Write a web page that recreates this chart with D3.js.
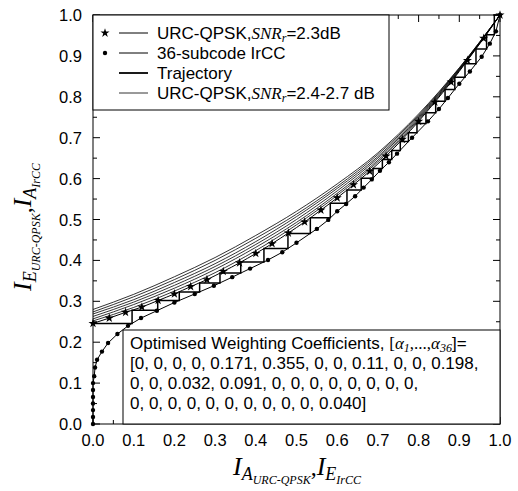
<!DOCTYPE html>
<html><head><meta charset="utf-8">
<script src="https://cdn.jsdelivr.net/npm/d3@7"></script>
<style>body{margin:0;background:#fff}svg{display:block}</style>
</head><body><div id="chart"></div>
<script>
// ---- data ----
const tickLabels = ["0.0","0.1","0.2","0.3","0.4","0.5","0.6","0.7","0.8","0.9","1.0"];
const urcX = [0,0.04,0.08,0.12,0.16,0.2,0.24,0.28,0.32,0.36,0.4,0.44,0.48,0.52,0.56,0.6,0.64,0.68,0.72,0.76,0.8,0.84,0.88,0.92,0.96,1.0];
const urcY = [0.246,0.259,0.273,0.286,0.302,0.318,0.336,0.353,0.373,0.394,0.417,0.441,0.467,0.494,0.523,0.553,0.585,0.618,0.655,0.696,0.740,0.787,0.836,0.889,0.943,1.0];
const irccX = [0,0,0,0,0,0,0,0.003,0.005,0.01,0.022,0.037,0.06,0.086,0.118,0.157,0.2,0.25,0.297,0.342,0.386,0.43,0.465,0.5,0.55,0.578,0.6,0.622,0.644,0.665,0.685,0.705,0.727,0.747,0.784,0.823,0.85,0.872,0.9,0.926,0.955,0.975,0.99,1.0];
const irccY = [0,0.017,0.034,0.05,0.066,0.083,0.1,0.117,0.138,0.157,0.177,0.198,0.22,0.24,0.259,0.277,0.297,0.318,0.338,0.359,0.38,0.401,0.42,0.443,0.477,0.499,0.52,0.538,0.557,0.578,0.598,0.619,0.64,0.661,0.70,0.74,0.77,0.797,0.832,0.862,0.898,0.93,0.96,1.0];
// URC-QPSK curves for higher SNR (2.4 - 2.7 dB)
const snrX = [0,0.1,0.2,0.3,0.4,0.5,0.6,0.7,0.8,0.9,1.0];
const snrCurves = [
  [0.252,0.285,0.325,0.370,0.424,0.487,0.559,0.641,0.743,0.864,1],
  [0.257,0.292,0.332,0.378,0.432,0.493,0.564,0.645,0.746,0.865,1],
  [0.263,0.298,0.339,0.385,0.439,0.500,0.570,0.650,0.749,0.867,1],
  [0.269,0.304,0.346,0.392,0.446,0.507,0.576,0.654,0.752,0.868,1],
  [0.274,0.311,0.353,0.400,0.454,0.513,0.581,0.659,0.755,0.870,1],
  [0.280,0.317,0.360,0.407,0.461,0.520,0.587,0.663,0.758,0.871,1]
];
// trajectory staircase: vertical at trajX[k] from trajY[k] to trajY[k+1], then horizontal to trajX[k+1]
const trajX = [0,0.096,0.159,0.212,0.262,0.312,0.363,0.42,0.479,0.534,0.583,0.624,0.659,0.688,0.711,0.734,0.755,0.775,0.796,0.818,0.842,0.865,0.889,0.914,0.941,0.967,0.986,1.0];
const trajY = [0.246,0.246,0.278,0.302,0.323,0.345,0.369,0.396,0.429,0.466,0.504,0.540,0.572,0.601,0.625,0.647,0.669,0.691,0.712,0.735,0.761,0.789,0.818,0.848,0.881,0.917,0.952,1.0];
const coeffLines = [
  "[0, 0, 0, 0, 0.171, 0.355, 0, 0, 0.11, 0, 0, 0.198,",
  "0, 0, 0.032, 0.091, 0, 0, 0, 0, 0, 0, 0, 0,",
  "0, 0, 0, 0, 0, 0, 0, 0, 0, 0, 0.040]"
];

// ---- drawing ----
const W = 518, H = 491;
const svg = d3.select("#chart").append("svg").attr("width", W).attr("height", H);
const x = d3.scaleLinear().domain([0,1]).range([93,500]);
const y = d3.scaleLinear().domain([0,1]).range([424,15]);
const sans = "Liberation Sans, Arial, sans-serif";
const serif = "Liberation Serif, Times New Roman, serif";
const FS = 17;

// ticks (inward, all four sides)
const major = d3.range(0, 11).map(i => i/10);
const minor = d3.range(0, 10).map(i => i/10 + 0.05);
const tg = svg.append("g").attr("stroke", "#000").attr("stroke-width", 1);
[[major,7],[minor,4]].forEach(([vals,len]) => {
  vals.forEach(v => {
    tg.append("line").attr("x1", x(v)).attr("x2", x(v)).attr("y1", 424).attr("y2", 424-len);
    tg.append("line").attr("x1", x(v)).attr("x2", x(v)).attr("y1", 15).attr("y2", 15+len);
    tg.append("line").attr("y1", y(v)).attr("y2", y(v)).attr("x1", 93).attr("x2", 93+len);
    tg.append("line").attr("y1", y(v)).attr("y2", y(v)).attr("x1", 500).attr("x2", 500-len);
  });
});

// tick labels
svg.append("g").selectAll("text").data(major).join("text")
  .attr("x", d => x(d)).attr("y", 446).attr("text-anchor", "middle")
  .attr("font-family", sans).attr("font-size", 16.5).text((d,i) => tickLabels[i]);
svg.append("g").selectAll("text").data(major).join("text")
  .attr("x", 82).attr("y", d => y(d) + 6).attr("text-anchor", "end")
  .attr("font-family", sans).attr("font-size", 16.5).text((d,i) => tickLabels[i]);

// curves
const lineGen = d3.line().x(d => x(d[0])).y(d => y(d[1]));
const smooth = d3.line().x(d => x(d[0])).y(d => y(d[1])).curve(d3.curveMonotoneX);
snrCurves.forEach(c => {
  svg.append("path").attr("d", smooth(snrX.map((v,i) => [v, c[i]])))
    .attr("fill", "none").attr("stroke", "#000").attr("stroke-width", 0.8);
});
const urcPts = urcX.map((v,i) => [v, urcY[i]]);
svg.append("path").attr("d", smooth(urcPts)).attr("fill","none").attr("stroke","#000").attr("stroke-width",1);
const irccPts = irccX.map((v,i) => [v, irccY[i]]);
svg.append("path").attr("d", lineGen(irccPts)).attr("fill","none").attr("stroke","#000").attr("stroke-width",1);

// trajectory
const trajPts = [];
for (let k = 0; k < trajX.length; k++) {
  trajPts.push([trajX[k], trajY[k]]);
  if (k + 1 < trajY.length) trajPts.push([trajX[k], trajY[k+1]]);
}
svg.append("path").attr("d", lineGen(trajPts)).attr("fill","none").attr("stroke","#000").attr("stroke-width",1.5);

// markers
const star = d3.symbol().type(d3.symbolStar).size(26);
svg.append("g").selectAll("path").data(urcPts).join("path")
  .attr("d", star).attr("transform", d => `translate(${x(d[0])},${y(d[1])})`).attr("fill","#000");
svg.append("g").selectAll("circle").data(irccPts).join("circle")
  .attr("cx", d => x(d[0])).attr("cy", d => y(d[1])).attr("r", 2.2).attr("fill","#000");

// frame
svg.append("rect").attr("x",93).attr("y",15).attr("width",407).attr("height",409)
  .attr("fill","none").attr("stroke","#000").attr("stroke-width",1);

// legend
svg.append("rect").attr("x",93).attr("y",15).attr("width",296).attr("height",95)
  .attr("fill","#fff").attr("stroke","#000").attr("stroke-width",1);
const legRows = [33, 53, 73, 93];
const lg = svg.append("g");
lg.append("path").attr("d", star).attr("transform", `translate(105,${legRows[0]})`).attr("fill","#000");
lg.append("circle").attr("cx",105).attr("cy",legRows[1]).attr("r",2.2).attr("fill","#000");
const lw = [1, 1, 1.8, 0.8];
legRows.forEach((ry,i) => lg.append("line").attr("x1",119).attr("x2",148).attr("y1",ry).attr("y2",ry)
  .attr("stroke","#000").attr("stroke-width",lw[i]));
function snrText(g, yy, tail) {
  const t = g.append("text").attr("x",157).attr("y",yy+6).attr("font-family",sans).attr("font-size",FS);
  t.append("tspan").text("URC-QPSK,");
  t.append("tspan").attr("font-family",serif).attr("font-style","italic").text("SNR");
  t.append("tspan").attr("font-family",serif).attr("font-style","italic").attr("font-size",12).attr("dy",3).text("r");
  t.append("tspan").attr("dy",-3).text(tail);
}
snrText(lg, legRows[0], "=2.3dB");
lg.append("text").attr("x",157).attr("y",legRows[1]+6).attr("font-family",sans).attr("font-size",FS).text("36-subcode IrCC");
lg.append("text").attr("x",157).attr("y",legRows[2]+6).attr("font-family",sans).attr("font-size",FS).text("Trajectory");
snrText(lg, legRows[3], "=2.4-2.7 dB");

// info box
svg.append("rect").attr("x",123).attr("y",330).attr("width",377).attr("height",94)
  .attr("fill","#fff").attr("stroke","#000").attr("stroke-width",1);
const ib = svg.append("g").attr("font-family",sans).attr("font-size",FS);
const t1 = ib.append("text").attr("x",130).attr("y",349);
t1.append("tspan").text("Optimised Weighting Coefficients, ");
t1.append("tspan").attr("font-family",serif).text("[");
t1.append("tspan").attr("font-family",serif).attr("font-style","italic").text("α");
t1.append("tspan").attr("font-family",serif).attr("font-style","italic").attr("font-size",12).attr("dy",3).text("1");
t1.append("tspan").attr("font-family",serif).attr("dy",-3).text(",...,");
t1.append("tspan").attr("font-family",serif).attr("font-style","italic").text("α");
t1.append("tspan").attr("font-family",serif).attr("font-style","italic").attr("font-size",12).attr("dy",3).text("36");
t1.append("tspan").attr("dy",-3).text("]=");
coeffLines.forEach((s,i) => ib.append("text").attr("x",130).attr("y",369 + i*20).text(s));

// axis labels
function axisLabel(g, a, b) {
  const t = g.append("text").attr("font-family",serif).attr("font-style","italic").attr("text-anchor","middle");
  t.append("tspan").attr("font-size",26).text("I");
  t.append("tspan").attr("font-size",18).attr("dy",5).text(a[0]);
  t.append("tspan").attr("font-size",12).attr("dy",4).text(a[1]);
  t.append("tspan").attr("font-size",24).attr("dy",-9).attr("font-style","normal").text(",");
  t.append("tspan").attr("font-size",26).text("I");
  t.append("tspan").attr("font-size",18).attr("dy",5).text(b[0]);
  t.append("tspan").attr("font-size",12).attr("dy",4).text(b[1]);
  return t;
}
axisLabel(svg.append("g").attr("transform","translate(297,475)"), ["A","URC-QPSK"], ["E","IrCC"]);
axisLabel(svg.append("g").attr("transform","translate(31,227) rotate(-90)"), ["E","URC-QPSK"], ["A","IrCC"]);
</script>
</body></html>
